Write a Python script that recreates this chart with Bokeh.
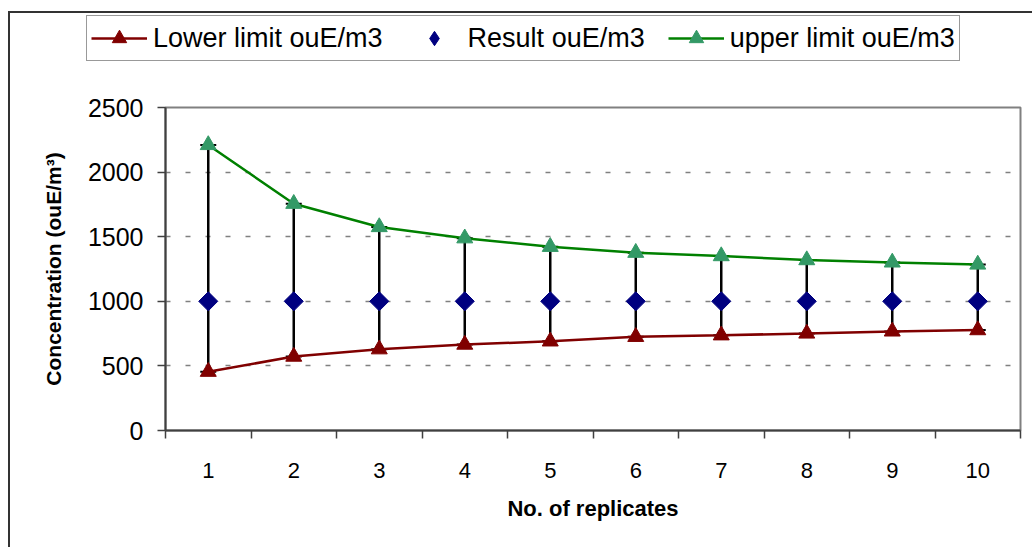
from bokeh.plotting import figure
from bokeh.layouts import column
from bokeh.models import (ColumnDataSource, Range1d, FixedTicker, Legend, LegendItem,
                          Whisker, TeeHead)
from bokeh.embed import file_html
from bokeh.resources import INLINE
import numpy as np

# ---- data ----
replicates = [1, 2, 3, 4, 5, 6, 7, 8, 9, 10]
lower_limit = [455, 572, 629, 665, 690, 725, 737, 751, 767, 777]
result = [1000, 1000, 1000, 1000, 1000, 1000, 1000, 1000, 1000, 1000]
upper_limit = [2210, 1755, 1575, 1488, 1422, 1376, 1350, 1319, 1301, 1285]
y_ticks = [0, 500, 1000, 1500, 2000, 2500]
grid_ticks = [500, 1000, 1500, 2000]
series_names = ["Lower limit ouE/m3", "Result ouE/m3", "upper limit ouE/m3"]

LOWER_C, LOWER_M = "#800000", "#800000"
RES_C = "#000080"
UPPER_C, UPPER_M = "#008000", "#339966"

src = ColumnDataSource(dict(x=replicates, lower=lower_limit, result=result, upper=upper_limit))

FONT = "Liberation Sans"
W = 1024


def draw_series(fig, in_legend=False):
    r_lo_line = fig.line("x", "lower", source=src, line_color=LOWER_C, line_width=2.5)
    r_lo_pts = fig.scatter("x", "lower", source=src, marker="triangle", size=16,
                           fill_color=LOWER_M, line_color=LOWER_M)
    if in_legend:
        r_res = fig.scatter("x", "result", source=src, marker="diamond", size=19,
                            fill_color=RES_C, line_color=RES_C)
    else:
        r_res = fig.scatter("x", "result", source=src, marker="square", size=13.5,
                            angle=np.pi / 4, fill_color=RES_C, line_color=RES_C)
    r_up_line = fig.line("x", "upper", source=src, line_color=UPPER_C, line_width=2.5)
    r_up_pts = fig.scatter("x", "upper", source=src, marker="triangle", size=16,
                           fill_color=UPPER_M, line_color=UPPER_M)
    return r_lo_line, r_lo_pts, r_res, r_up_line, r_up_pts


# ---------------- main chart ----------------
p = figure(width=W, height=484, output_backend="svg", toolbar_location=None,
           x_range=Range1d(replicates[0] - 0.5, replicates[-1] + 0.5),
           y_range=Range1d(y_ticks[0], y_ticks[-1]),
           min_border_left=155, min_border_right=14, min_border_top=42, min_border_bottom=119)
p.frame_align = False
p.background_fill_color = "white"
p.border_fill_color = "white"
p.outline_line_color = "#808080"
p.outline_line_width = 2

p.xgrid.visible = False
p.ygrid.ticker = FixedTicker(ticks=grid_ticks)
p.ygrid.grid_line_color = "#808080"
p.ygrid.grid_line_dash = "5 15"
p.ygrid.grid_line_width = 1.5

whisk = Whisker(source=src, base="x", upper="upper", lower="lower",
                line_color="black", line_width=2.5, level="underlay",
                upper_head=TeeHead(size=16, line_color="black", line_width=2),
                lower_head=TeeHead(size=16, line_color="black", line_width=2))
p.add_layout(whisk)

draw_series(p)

xa = p.xaxis[0]
xa.ticker = FixedTicker(ticks=replicates,
                        minor_ticks=[v - 0.5 for v in replicates] + [replicates[-1] + 0.5])
xa.axis_label = "No. of replicates"
xa.axis_label_text_font = FONT
xa.axis_label_text_font_style = "bold"
xa.axis_label_text_font_size = "22px"
xa.axis_label_text_color = "black"
xa.axis_label_standoff = 15
xa.major_label_text_font = FONT
xa.major_label_text_font_size = "22px"
xa.major_label_text_color = "black"
xa.major_tick_line_color = None
xa.major_tick_out = 0
xa.major_tick_in = 0
xa.major_label_standoff = 24
xa.minor_tick_line_color = "#404040"
xa.minor_tick_line_width = 1.5
xa.minor_tick_out = 8
xa.minor_tick_in = 0
xa.axis_line_color = "#404040"
xa.axis_line_width = 2

ya = p.yaxis[0]
ya.ticker = FixedTicker(ticks=y_ticks)
ya.axis_label = "Concentration (ouE/m³)"
ya.axis_label_text_font = FONT
ya.axis_label_text_font_style = "bold"
ya.axis_label_text_font_size = "21px"
ya.axis_label_text_color = "black"
ya.axis_label_standoff = 20
ya.major_label_text_font = FONT
ya.major_label_text_font_size = "25px"
ya.major_label_text_color = "black"
ya.major_label_standoff = 14
ya.major_tick_line_color = "#404040"
ya.major_tick_line_width = 1.5
ya.major_tick_out = 8
ya.major_tick_in = 0
ya.minor_tick_line_color = None
ya.axis_line_color = "#404040"
ya.axis_line_width = 2

# ---------------- legend strip (series drawn out of view, only the legend shows) ----------------
lg = figure(width=W, height=52, output_backend="svg", toolbar_location=None,
            x_range=Range1d(-1, 0), y_range=Range1d(-1, 0),
            x_axis_location=None, y_axis_location=None, min_border=0)
lg.frame_align = False
lg.outline_line_color = None
lg.grid.visible = False
lg.background_fill_color = "white"
lg.border_fill_color = "white"
l1, m1, m2, l3, m3 = draw_series(lg, in_legend=True)

legend = Legend(items=[
    LegendItem(label=series_names[0], renderers=[l1, m1]),
    LegendItem(label=series_names[1], renderers=[m2]),
    LegendItem(label=series_names[2], renderers=[l3, m3]),
], orientation="horizontal", location=(76, 4))
legend.label_text_font = FONT
legend.label_text_font_size = "27px"
legend.label_text_color = "black"
legend.glyph_width = 56
legend.glyph_height = 36
legend.label_height = 30
legend.label_standoff = 6
legend.spacing = 23
legend.padding = 4
legend.margin = 0
legend.border_line_color = "#333333"
legend.border_line_width = 1.5
legend.background_fill_color = "white"
legend.background_fill_alpha = 1
lg.add_layout(legend, "center")

layout = column(lg, p, spacing=0)
layout.margin = (13, 0, 0, 10)
layout.styles = {"box-shadow": "-2px -2px 0 0 #333333"}

open("out.html", "w").write(file_html(layout, INLINE))
